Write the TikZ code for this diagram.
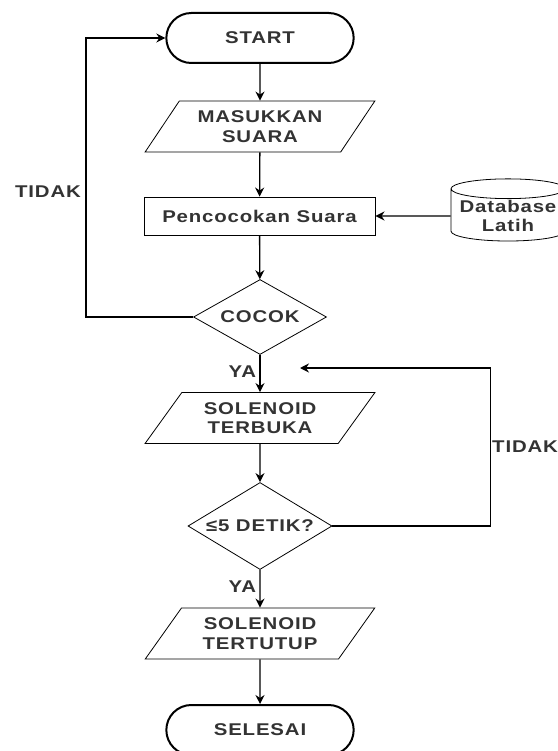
\documentclass[tikz,border=0pt]{standalone}
\usepackage{fontspec}
\newfontfamily\chartfont{Liberation Sans}[LetterSpace=5, FakeStretch=1.2]
\usepackage{tikz}
\usetikzlibrary{shapes.geometric, shapes.misc, arrows.meta, positioning}

\begin{document}
\begin{tikzpicture}[x=1pt, y=-1pt,
  every node/.style={font=\chartfont\bfseries\fontsize{17}{19.5}\selectfont, text=black!80, align=center},
  terminal/.style={draw, rounded rectangle, line width=2pt, minimum width=194pt, minimum height=50pt},
  inout/.style={draw, trapezium, trapezium left angle=50, trapezium right angle=130, trapezium stretches=true, line width=0.8pt, minimum width=230pt, minimum height=51pt, inner sep=0pt},
  process/.style={draw, rectangle, line width=0.9pt, minimum width=231pt, minimum height=38pt},
  decision/.style={draw, diamond, line width=0.8pt, inner sep=0pt},
  store/.style={draw, cylinder, shape border rotate=90, aspect=0.2, line width=0.8pt, minimum width=114pt, minimum height=62pt, inner sep=1pt},
  arrow/.style={-{Stealth[length=9pt, width=9pt]}, line width=1.3pt}]
\useasboundingbox (0,0) rectangle (557,751);
\node[terminal] (start) at (260,38) {START};
\node[inout] (input) at (260,126.5) {MASUKKAN\\SUARA};
\node[process] (match) at (259.5,216) {Pencocokan Suara};
\node[store] (db) at (508,216) {Database\\Latih};
\node[decision, aspect=1.77, minimum width=133pt, minimum height=75pt] (cocok) at (260,317) {COCOK};
\node[inout] (open) at (260,418) {SOLENOID\\TERBUKA};
\node[decision, aspect=1.66, minimum width=144pt, minimum height=87pt] (timer) at (260,526) {≤5 DETIK?};
\node[inout] (close) at (260,633.5) {SOLENOID\\TERTUTUP};
\node[terminal] (finish) at (260,730) {SELESAI};
\coordinate (back) at (300,368);

\draw[arrow] (start) -- (input);
\draw[arrow] (input) -- (match);
\draw[arrow] (db) -- (match);
\draw[arrow] (match) -- (cocok);
\draw[arrow] (cocok.west) -- ++(-107,0) |- (start.west);
\node (no1) at (48,192) {TIDAK};
\draw[arrow] (cocok) -- node[anchor=east, yshift=2pt]{YA} (open);
\draw[arrow] (open) -- (timer);
\draw[arrow] (timer.east) -- ++(158,0) |- (back);
\node[anchor=west, inner sep=1pt] (no2) at (491,447) {TIDAK};
\draw[arrow] (timer) -- node[anchor=east, yshift=2pt]{YA} (close);
\draw[arrow] (close) -- (finish);
\end{tikzpicture}
\end{document}
